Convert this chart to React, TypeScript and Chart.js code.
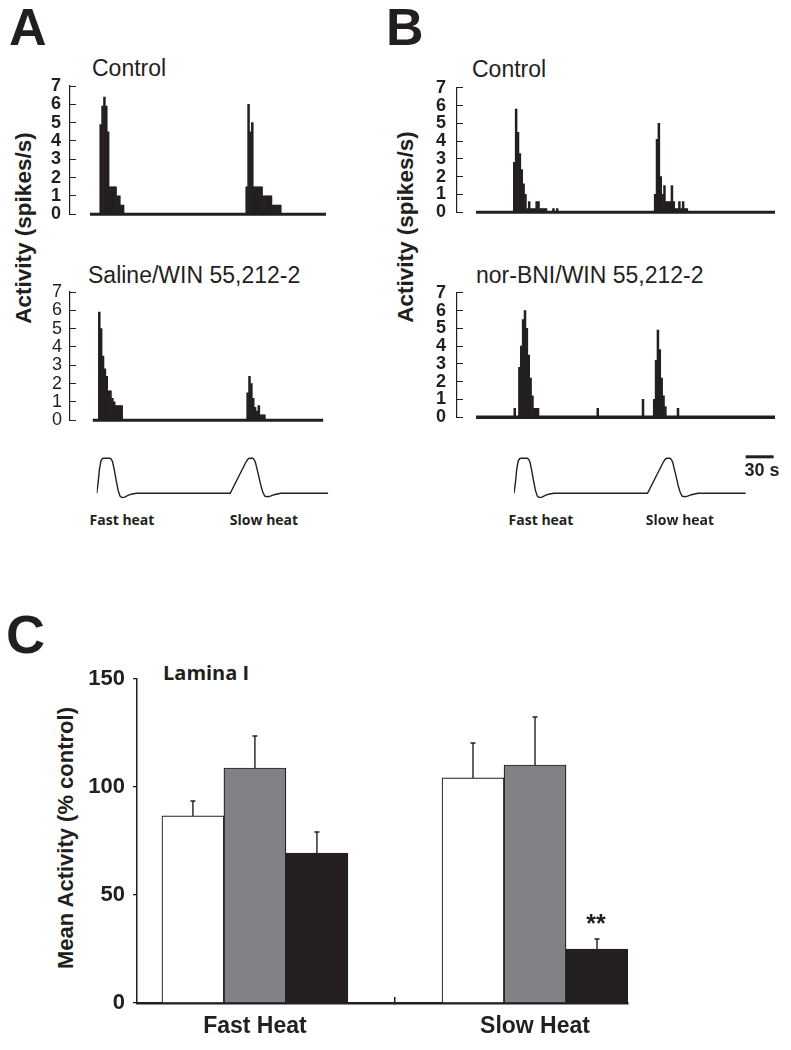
import React, { useEffect, useRef } from "react";
import { Chart, registerables } from "chart.js";

Chart.register(...registerables);
Chart.defaults.font.family = "'Liberation Sans', Arial, Helvetica, sans-serif";
Chart.defaults.color = "#231f20";

// ---------- Panel A / B peri-stimulus histograms (spikes/s, 2 s bins, time in s) ----------
const BIN = 2;

const aControlFastStart = 10.5;
const aControlFast = [4.9, 5.9, 6.4, 5.9, 4.5, 1.5, 1.5, 1.5, 1.5, 1.0, 1.0, 0.5, 0.5];
const aControlSlowStart = 167;
const aControlSlow = [1.5, 6.0, 4.5, 5.0, 1.5, 1.5, 1.5, 1.5, 1.5, 1.0, 1.0, 1.0, 1.0, 1.0, 0.5, 0.5, 0.5, 0.5, 0.5];
const aControlRecording = [0, 253];

const aSalineFastStart = 9;
const aSalineFast = [5.9, 5.0, 3.5, 2.8, 2.4, 1.6, 1.6, 1.2, 1.0, 0.8, 0.8, 0.8, 0.8];
const aSalineSlowStart = 168;
const aSalineSlow = [1.5, 2.4, 2.0, 1.2, 0.7, 0.5, 0.8, 0.3, 0.3, 0.3];
const aSalineRecording = [3, 250];

const bControlFastStart = 40;
const bControlFast = [2.8, 5.8, 4.5, 3.3, 2.4, 1.6, 1.0, 0.2, 0.6, 0.2, 0.2, 0.2, 0.6, 0.6, 0.2, 0.2, 0.2, 0.2, 0, 0, 0, 0.2, 0, 0.2];
const bControlSlowStart = 191;
const bControlSlow = [1.0, 4.1, 5.0, 2.0, 1.0, 1.5, 0.6, 0.6, 0.6, 1.5, 0.6, 0.2, 0.2, 0.6, 0.2, 0.6, 0.2, 0.2];
const bControlRecording = [0, 320.5];

const bNorFastStart = 45.5;
const bNorFast = [2.8, 4.0, 5.5, 6.0, 5.0, 3.5, 2.2, 1.2, 0.5, 0.5, 0.5];
const bNorSlowStart = 190;
const bNorSlow = [1.0, 3.2, 4.9, 3.8, 2.2, 1.2, 0.6];
const bNorSpikeTimes = [40.5, 129.5, 178, 215.5];
const bNorSpikeValues = [0.5, 0.5, 1.0, 0.5];
const bNorRecording = [0, 320.5];

const histYTicks = [0, 1, 2, 3, 4, 5, 6, 7];

// ---------- Heat stimulus trace (relative temperature, time in s) ----------
const stimTime = [0, 1.5, 3, 4.5, 6, 7.5, 14, 15.5, 17, 19, 21, 23, 25, 27, 30, 34, 38, 43, 143, 160, 162, 163.5, 167, 168.5, 170, 173, 176, 178, 180, 183, 186, 190, 197, 248];
const stimLevel = [0, 0.3, 0.7, 0.92, 0.99, 1.0, 1.0, 0.98, 0.9, 0.65, 0.35, 0.08, -0.08, -0.12, -0.11, -0.05, -0.02, 0, 0, 0.9, 0.98, 1.0, 1.0, 0.97, 0.88, 0.55, 0.2, 0.02, -0.08, -0.1, -0.08, -0.04, 0, 0];
const scaleBarSeconds = 30;
const scaleBarStart = 248;

// ---------- Panel C: mean activity (% control) ----------
const groupLabels = ["Fast Heat", "Slow Heat"];
const groupPositions = [1, 2];
const groupDivider = 1.5;
const seriesNames = ["Control", "Saline/WIN 55,212-2", "nor-BNI/WIN 55,212-2"];
const controlMean = [86.6, 104.2];
const controlSem = [6.9, 16.2];
const salineMean = [108.8, 110.2];
const salineSem = [14.8, 22.2];
const norbniMean = [69.4, 25.0];
const norbniSem = [9.8, 4.6];
const norbniSignificance = ["", "**"];
const cYTicks = [0, 50, 100, 150];

const INK = "#231f20";

type Burst = { start: number; values: number[] };

const baselinePlugin = {
  id: "baseline",
  afterDatasetsDraw(chart: any, _args: any, opts: any) {
    const { x, y } = chart.scales;
    const ctx = chart.ctx;
    ctx.save();
    ctx.strokeStyle = INK;
    ctx.lineWidth = opts.width || 3;
    ctx.beginPath();
    const py = y.getPixelForValue(0);
    ctx.moveTo(x.getPixelForValue(opts.from), py);
    ctx.lineTo(x.getPixelForValue(opts.to), py);
    ctx.stroke();
    ctx.restore();
  },
};

function histConfig(p: {
  bursts: Burst[];
  recording: number[];
  xMin: number;
  xMax: number;
  yWidth: number;
  padTop: number;
  padBottom: number;
  padRight: number;
  bold: boolean;
  labelPad: number;
  baseWidth: number;
}) {
  const pts: { x: number; y: number }[] = [];
  p.bursts.forEach((b) =>
    b.values.forEach((v, i) => pts.push({ x: b.start + i * BIN + BIN / 2, y: v }))
  );
  return {
    type: "bar",
    data: {
      datasets: [
        {
          data: pts,
          backgroundColor: INK,
          borderWidth: 0,
          barPercentage: 1,
          categoryPercentage: 1,
        },
      ],
    },
    options: {
      animation: false,
      responsive: false,
      events: [],
      layout: { padding: { left: 0, right: p.padRight, top: p.padTop, bottom: p.padBottom } },
      plugins: {
        legend: { display: false },
        tooltip: { enabled: false },
        baseline: { from: p.recording[0], to: p.recording[1], width: p.baseWidth },
      },
      scales: {
        x: {
          type: "linear",
          min: p.xMin,
          max: p.xMax,
          display: false,
          offset: false,
          grid: { offset: false },
        },
        y: {
          type: "linear",
          min: histYTicks[0],
          max: histYTicks[histYTicks.length - 1],
          afterFit: (s: any) => {
            s.width = p.yWidth;
          },
          afterBuildTicks: (s: any) => {
            s.ticks = histYTicks.map((v) => ({ value: v }));
          },
          ticks: {
            autoSkip: false,
            padding: p.labelPad,
            color: INK,
            font: { size: 18, weight: p.bold ? "bold" : "normal" },
          },
          grid: { drawOnChartArea: false, drawTicks: true, tickLength: -6, color: INK, lineWidth: 1 },
          border: { display: true, color: INK, width: 1.2 },
        },
      },
    },
    plugins: [baselinePlugin],
  };
}

const scaleBarPlugin = {
  id: "scaleBar",
  afterDraw(chart: any, _a: any, opts: any) {
    if (!opts || !opts.show) return;
    const { x } = chart.scales;
    const ctx = chart.ctx;
    const yy = chart.chartArea.top + 2;
    ctx.save();
    ctx.strokeStyle = INK;
    ctx.lineWidth = 3;
    ctx.beginPath();
    ctx.moveTo(x.getPixelForValue(scaleBarStart), yy);
    ctx.lineTo(x.getPixelForValue(scaleBarStart + scaleBarSeconds), yy);
    ctx.stroke();
    ctx.restore();
  },
};

function stimConfig(p: { xMax: number; padLeft: number; padRight: number; showBar: boolean }) {
  return {
    type: "line",
    data: {
      datasets: [
        {
          data: stimTime.map((t, i) => ({ x: t, y: stimLevel[i] })),
          borderColor: INK,
          borderWidth: 1.4,
          pointRadius: 0,
          tension: 0,
          fill: false,
        },
      ],
    },
    options: {
      animation: false,
      responsive: false,
      events: [],
      layout: { padding: { left: p.padLeft, right: p.padRight, top: 4.8, bottom: 5.7 } },
      plugins: {
        legend: { display: false },
        tooltip: { enabled: false },
        scaleBar: { show: p.showBar },
      },
      scales: {
        x: { type: "linear", min: 0, max: p.xMax, display: false },
        y: { type: "linear", min: -0.2, max: 1.1, display: false },
      },
    },
    plugins: [scaleBarPlugin],
  };
}

const errorBarPlugin = {
  id: "errorBars",
  afterDatasetsDraw(chart: any) {
    const ctx = chart.ctx;
    const y = chart.scales.y;
    const means = [controlMean, salineMean, norbniMean];
    const sems = [controlSem, salineSem, norbniSem];
    ctx.save();
    ctx.strokeStyle = INK;
    ctx.lineWidth = 1.4;
    means.forEach((vals, d) => {
      const meta = chart.getDatasetMeta(d);
      vals.forEach((v, j) => {
        const bx = meta.data[j].x;
        const y0 = y.getPixelForValue(v);
        const y1 = y.getPixelForValue(v + sems[d][j]);
        ctx.beginPath();
        ctx.moveTo(bx, y0);
        ctx.lineTo(bx, y1);
        ctx.moveTo(bx - 2.5, y1);
        ctx.lineTo(bx + 2.5, y1);
        ctx.stroke();
      });
    });
    // significance marks
    const meta = chart.getDatasetMeta(2);
    ctx.fillStyle = INK;
    ctx.font = "bold 25px 'Liberation Sans', Arial, sans-serif";
    ctx.textAlign = "center";
    ctx.textBaseline = "alphabetic";
    norbniSignificance.forEach((s, j) => {
      if (!s) return;
      const bx = meta.data[j].x;
      const top = y.getPixelForValue(norbniMean[j] + norbniSem[j]);
      ctx.fillText(s, bx - 1, top - 7);
    });
    ctx.restore();
  },
};

function barConfig() {
  const mk = (label: string, vals: number[], color: string) => ({
    label,
    data: vals.map((v, i) => ({ x: groupPositions[i], y: v })),
    backgroundColor: color,
    borderColor: INK,
    borderWidth: 1.2,
    barThickness: 62,
  });
  return {
    type: "bar",
    data: {
      datasets: [
        mk(seriesNames[0], controlMean, "#ffffff"),
        mk(seriesNames[1], salineMean, "#808285"),
        mk(seriesNames[2], norbniMean, INK),
      ],
    },
    options: {
      animation: false,
      responsive: false,
      events: [],
      layout: { padding: { left: 0, right: 72, top: 39, bottom: 0 } },
      plugins: { legend: { display: false }, tooltip: { enabled: false } },
      scales: {
        x: {
          type: "linear",
          min: 0.579,
          max: 2.332,
          offset: false,
          afterFit: (s: any) => {
            s.height = 47;
          },
          afterBuildTicks: (s: any) => {
            s.ticks = [groupPositions[0], groupDivider, groupPositions[1]].map((v) => ({ value: v }));
          },
          ticks: {
            padding: 16,
            color: INK,
            font: { size: 23, weight: "bold" },
            autoSkip: false,
            maxRotation: 0,
            callback: (v: number) => {
              const i = groupPositions.indexOf(v);
              return i >= 0 ? groupLabels[i] : "";
            },
          },
          grid: {
            offset: false,
            drawOnChartArea: false,
            drawTicks: true,
            tickLength: -6,
            lineWidth: 1.5,
            color: (c: any) => (c.tick && c.tick.value === groupDivider ? INK : "rgba(0,0,0,0)"),
          },
          border: { display: true, color: INK, width: 2.5 },
        },
        y: {
          type: "linear",
          min: 0,
          max: 150,
          afterFit: (s: any) => {
            s.width = 137;
          },
          afterBuildTicks: (s: any) => {
            s.ticks = cYTicks.map((v) => ({ value: v }));
          },
          ticks: { autoSkip: false, padding: 8, color: INK, font: { size: 22, weight: "bold" } },
          grid: { drawOnChartArea: false, drawTicks: true, tickLength: 4, color: INK, lineWidth: 1.3 },
          border: { display: true, color: INK, width: 1.5 },
        },
      },
    },
    plugins: [errorBarPlugin],
  };
}

function ChartBox(props: { make: () => any; left: number; top: number; width: number; height: number }) {
  const ref = useRef<HTMLCanvasElement | null>(null);
  useEffect(() => {
    const chart = new Chart(ref.current as HTMLCanvasElement, props.make());
    return () => chart.destroy();
  }, []);
  return (
    <canvas
      ref={ref}
      width={props.width}
      height={props.height}
      style={{
        position: "absolute",
        left: props.left,
        top: props.top,
        width: props.width,
        height: props.height,
        display: "block",
      }}
    />
  );
}

const ARIAL = "'Liberation Sans', Arial, Helvetica, sans-serif";
const MYRIAD = "'Open Sans', 'Liberation Sans', sans-serif";

function Txt(props: {
  x: number;
  y: number;
  size: number;
  bold?: boolean;
  family?: string;
  center?: boolean;
  rotate?: boolean;
  children: React.ReactNode;
}) {
  const tx = props.center || props.rotate ? "-50%" : "0";
  return (
    <div
      style={{
        position: "absolute",
        left: props.x,
        top: props.y,
        transform: `translate(${tx}, -50%)${props.rotate ? " rotate(-90deg)" : ""}`,
        fontFamily: props.family || ARIAL,
        fontSize: props.size,
        fontWeight: props.bold ? 700 : 400,
        lineHeight: 1,
        whiteSpace: "nowrap",
        color: INK,
      }}
    >
      {props.children}
    </div>
  );
}

export default function App() {
  return (
    <div
      style={{
        position: "absolute",
        left: 0,
        top: 0,
        width: 791,
        height: 1050,
        background: "#ffffff",
        overflow: "hidden",
      }}
    >
      {/* Panel letters */}
      <Txt x={9} y={27} size={52} bold>A</Txt>
      <Txt x={386} y={27} size={52} bold>B</Txt>
      <Txt x={6} y={634} size={54} bold>C</Txt>

      {/* Panel A */}
      <Txt x={92} y={68} size={23}>Control</Txt>
      <Txt x={88} y={275} size={23}>Saline/WIN 55,212-2</Txt>
      <Txt x={24} y={228} size={22.5} bold rotate>Activity (spikes/s)</Txt>
      <ChartBox
        left={0}
        top={60}
        width={340}
        height={180}
        make={() =>
          histConfig({
            bursts: [
              { start: aControlFastStart, values: aControlFast },
              { start: aControlSlowStart, values: aControlSlow },
            ],
            recording: aControlRecording,
            xMin: -21.4,
            xMax: 253,
            yWidth: 70,
            padTop: 26,
            padBottom: 12,
            padRight: 14,
            bold: true,
            labelPad: 15,
            baseWidth: 3,
          })
        }
      />
      <ChartBox
        left={0}
        top={265}
        width={340}
        height={180}
        make={() =>
          histConfig({
            bursts: [
              { start: aSalineFastStart, values: aSalineFast },
              { start: aSalineSlowStart, values: aSalineSlow },
            ],
            recording: aSalineRecording,
            xMin: -21.4,
            xMax: 253,
            yWidth: 70,
            padTop: 27,
            padBottom: 13,
            padRight: 14,
            bold: false,
            labelPad: 14,
            baseWidth: 3,
          })
        }
      />
      <ChartBox
        left={90}
        top={450}
        width={245}
        height={56}
        make={() => stimConfig({ xMax: 248, padLeft: 6.7, padRight: 6.7, showBar: false })}
      />
      <Txt x={122} y={520} size={14} bold family={MYRIAD} center>Fast heat</Txt>
      <Txt x={264} y={520} size={14} bold family={MYRIAD} center>Slow heat</Txt>

      {/* Panel B */}
      <Txt x={472} y={68.5} size={23}>Control</Txt>
      <Txt x={476} y={275} size={23}>nor-BNI/WIN 55,212-2</Txt>
      <Txt x={406} y={227} size={22.5} bold rotate>Activity (spikes/s)</Txt>
      <ChartBox
        left={390}
        top={60}
        width={400}
        height={180}
        make={() =>
          histConfig({
            bursts: [
              { start: bControlFastStart, values: bControlFast },
              { start: bControlSlowStart, values: bControlSlow },
            ],
            recording: bControlRecording,
            xMin: -20.4,
            xMax: 320.5,
            yWidth: 67,
            padTop: 26,
            padBottom: 12,
            padRight: 15,
            bold: true,
            labelPad: 17,
            baseWidth: 3,
          })
        }
      />
      <ChartBox
        left={390}
        top={265}
        width={400}
        height={180}
        make={() =>
          histConfig({
            bursts: [
              { start: bNorFastStart, values: bNorFast },
              { start: bNorSlowStart, values: bNorSlow },
              ...bNorSpikeTimes.map((t, i) => ({ start: t, values: [bNorSpikeValues[i]] })),
            ],
            recording: bNorRecording,
            xMin: -20.4,
            xMax: 320.5,
            yWidth: 67,
            padTop: 27,
            padBottom: 13,
            padRight: 15,
            bold: true,
            labelPad: 17,
            baseWidth: 3.5,
          })
        }
      />
      <ChartBox
        left={505}
        top={450}
        width={286}
        height={56}
        make={() => stimConfig({ xMax: 280, padLeft: 9, padRight: 15.5, showBar: true })}
      />
      <Txt x={762} y={470} size={18} bold center>30 s</Txt>
      <Txt x={541} y={520} size={14} bold family={MYRIAD} center>Fast heat</Txt>
      <Txt x={680} y={520} size={14} bold family={MYRIAD} center>Slow heat</Txt>

      {/* Panel C */}
      <Txt x={163} y={672.5} size={20} bold family={MYRIAD}>Lamina I</Txt>
      <Txt x={66} y={838} size={22} bold rotate>Mean Activity (% control)</Txt>
      <ChartBox left={0} top={640} width={700} height={410} make={barConfig} />
    </div>
  );
}
